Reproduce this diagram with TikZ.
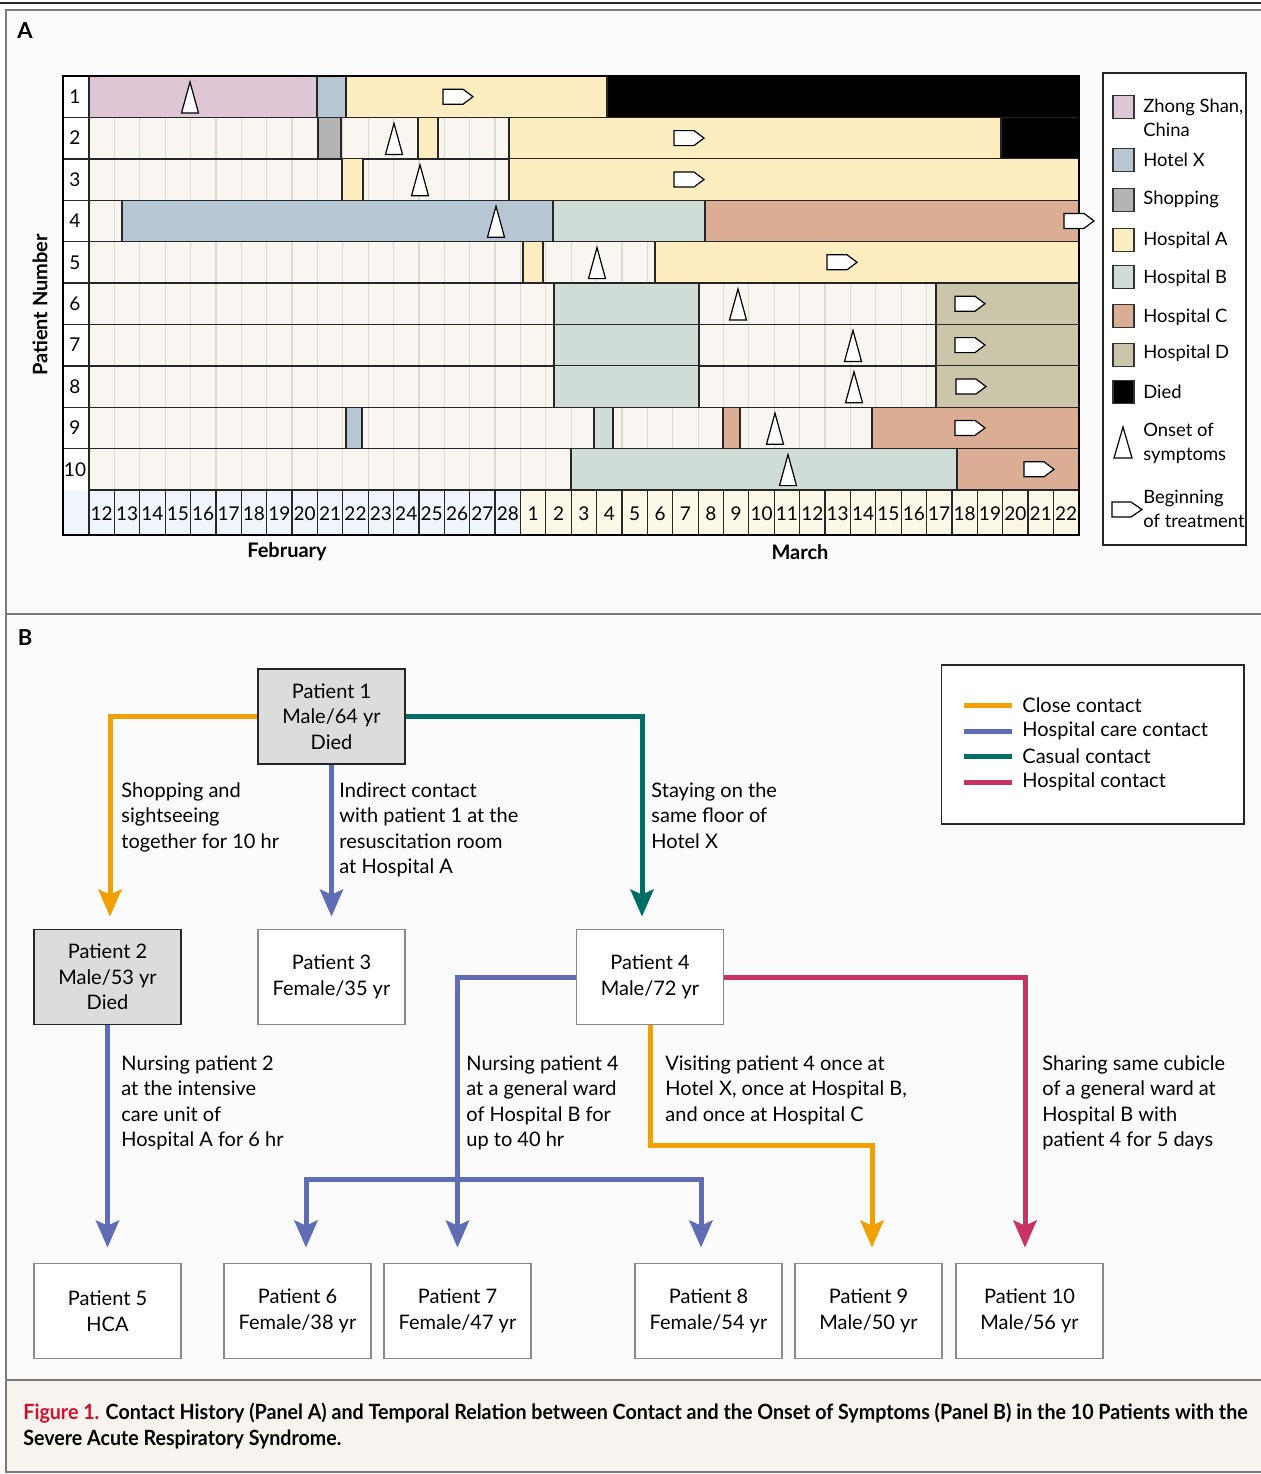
\documentclass[tikz,border=0pt]{standalone}
\usepackage{fontspec}
\setmainfont{Lato}
\usepackage{graphicx}
\usetikzlibrary{arrows.meta}
\definecolor{czs}{HTML}{DFC6D5}
\definecolor{chx}{HTML}{B6C6D3}
\definecolor{csh}{HTML}{B4B4B4}
\definecolor{cha}{HTML}{FEEDC0}
\definecolor{chb}{HTML}{CFDDD6}
\definecolor{chc}{HTML}{DCAD95}
\definecolor{chd}{HTML}{CBC5AA}
\definecolor{bgc}{HTML}{F9F6F1}
\definecolor{gridc}{HTML}{DDD9D1}
\definecolor{febc}{HTML}{EFF5FB}
\definecolor{marc}{HTML}{FBF8E7}
\definecolor{panelbg}{HTML}{FBFBFB}
\definecolor{capbg}{HTML}{F7F4EF}
\definecolor{corange}{HTML}{F0A000}
\definecolor{cblue}{HTML}{5F6EB4}
\definecolor{cteal}{HTML}{006E64}
\definecolor{cpink}{HTML}{C83264}
\definecolor{nodegray}{HTML}{DCDCDC}
\definecolor{boxgray}{HTML}{8A8A8A}
\definecolor{figred}{HTML}{D2102C}
\definecolor{framec}{HTML}{7A7A7A}
\newcommand\cbar[4]{\filldraw[fill=#4, draw=black!85, line width=0.6pt] (#1,{76+41.4*(#3-1)}) rectangle (#2,{76+41.4*#3});}
\newcommand\onset[2]{\filldraw[fill=white, draw=black, line width=0.6pt] (#1,{76+41.4*(#2-1)+6}) -- ({#1+8.5},{76+41.4*(#2-1)+37}) -- ({#1-8.5},{76+41.4*(#2-1)+37}) -- cycle;}
\newcommand\treat[2]{\filldraw[fill=white, draw=black, line width=0.6pt] (#1,{76+41.4*(#2-1)+13.2}) -- ({#1+20},{76+41.4*(#2-1)+13.2}) -- ({#1+30},{76+41.4*(#2-1)+20.7}) -- ({#1+20},{76+41.4*(#2-1)+28.2}) -- (#1,{76+41.4*(#2-1)+28.2}) -- cycle;}
\begin{document}
\begin{tikzpicture}[x=0.5pt,y=-0.5pt,
  pbox/.style={minimum width=73.5pt, minimum height=47.5pt, inner sep=0pt, align=center, font=\fontsize{10}{12.75}\selectfont, line width=0.9pt},
  deadbox/.style={pbox, draw=black!85, fill=nodegray},
  livebox/.style={pbox, draw=boxgray, fill=white},
  lbl/.style={anchor=north west, inner sep=0pt, align=left, font=\fontsize{10}{12.75}\selectfont},
  conn/.style={line width=2.5pt, -{Stealth[length=13.5pt,width=11.5pt,inset=2.5pt]}},
  closec/.style={conn, draw=corange},
  hcare/.style={conn, draw=cblue},
  casual/.style={conn, draw=cteal},
  hospc/.style={conn, draw=cpink},
  leg/.style={anchor=west, inner sep=0pt, font=\fontsize{9.2}{12}\selectfont},
  daynum/.style={inner sep=0pt, font=\fontsize{9.5}{11}\selectfont},
]
\useasboundingbox (0,0) rectangle (1261,1474);
\fill[white] (0,0) rectangle (1261,1474);
\fill[panelbg] (6,10) rectangle (1261,1380);
\fill[capbg] (6,1380) rectangle (1261,1472);
\draw[black!85, line width=1pt] (0,3) -- (1261,3);
\draw[framec, line width=1pt] (1265,10) -- (6,10) -- (6,1472) -- (1265,1472);
\draw[framec, line width=1pt] (6,614) -- (1265,614);
\draw[framec, line width=1pt] (6,1380) -- (1265,1380);

% ---------------- Panel A ----------------
\node[inner sep=0pt, font=\fontsize{11}{13}\selectfont\bfseries] (labA) at (25,31) {A};
\node[inner sep=0pt, rotate=90, font=\fontsize{10}{12}\selectfont\bfseries] (pnum) at (40,305) {Patient Number};
\node[inner sep=0pt, font=\fontsize{10}{12}\selectfont\bfseries] (feb) at (287,552) {February};
\node[inner sep=0pt, font=\fontsize{10}{12}\selectfont\bfseries] (mar) at (800,552) {March};

\foreach \r in {1,...,10} {
  \pgfmathsetmacro\yt{76+41.4*(\r-1)}
  \fill[bgc] (89,\yt) rectangle (1079,{\yt+41.4});
  \foreach \k in {1,...,38} \draw[gridc, line width=0.6pt] ({89+25.38*\k},\yt) -- ({89+25.38*\k},{\yt+41.4});
  \fill[white] (63,\yt) rectangle (89,{\yt+41.4});
  \node[daynum] (r\r) at (75,{\yt+20.7}) {\r};
}
\foreach \r in {1,...,9} \draw[black!85, line width=0.7pt] (63,{76+41.4*\r}) -- (1079,{76+41.4*\r});

% row 1
\cbar{89}{317}{1}{czs}
\cbar{317}{346}{1}{chx}
\cbar{346}{607}{1}{cha}
\cbar{607}{1079}{1}{black}
% row 2
\cbar{318}{341}{2}{csh}
\cbar{418}{438}{2}{cha}
\cbar{509}{1001}{2}{cha}
\cbar{1001}{1079}{2}{black}
% row 3
\cbar{342}{363}{3}{cha}
\cbar{509}{1079}{3}{cha}
% row 4
\cbar{122}{553}{4}{chx}
\cbar{553}{705}{4}{chb}
\cbar{705}{1079}{4}{chc}
% row 5
\cbar{523}{543}{5}{cha}
\cbar{655}{1079}{5}{cha}
% rows 6-8
\cbar{554}{699}{6}{chb}
\cbar{936}{1079}{6}{chd}
\cbar{554}{699}{7}{chb}
\cbar{936}{1079}{7}{chd}
\cbar{554}{699}{8}{chb}
\cbar{936}{1079}{8}{chd}
% row 9
\cbar{346}{362}{9}{chx}
\cbar{594}{613}{9}{chb}
\cbar{723}{740}{9}{chc}
\cbar{872}{1079}{9}{chc}
% row 10
\cbar{571}{957}{10}{chb}
\cbar{957}{1079}{10}{chc}

% date row
\fill[febc] (63,490) rectangle (89,535);
\foreach \k in {0,...,38} {
  \ifnum\k<17 \def\cc{febc}\else\def\cc{marc}\fi
  \pgfmathtruncatemacro\dn{\k<17 ? 12+\k : \k-16}
  \filldraw[fill=\cc, draw=black!85, line width=0.6pt] ({89+25.38*\k},490) rectangle ({89+25.38*(\k+1)},535);
  \node[daynum] (d\k) at ({89+25.38*\k+12.7},514) {\dn};
}
\draw[black!85, line width=0.8pt] (89,76) -- (89,535);
\draw[black, line width=1.3pt] (63,76) rectangle (1079,535);

% symbols
\onset{190}{1}  \treat{443}{1}
\onset{394}{2}  \treat{674}{2}
\onset{420}{3}  \treat{674}{3}
\onset{496}{4}  \treat{1064}{4}
\onset{597}{5}  \treat{827}{5}
\onset{738}{6}  \treat{955}{6}
\onset{853}{7}  \treat{955}{7}
\onset{854}{8}  \treat{956}{8}
\onset{775}{9}  \treat{955}{9}
\onset{788}{10} \treat{1024}{10}

% legend A
\filldraw[fill=white, draw=black!85, line width=0.8pt] (1103,73) rectangle (1246,545);
\foreach \yy/\cc in {107/czs,160/chx,200/csh,240/cha,277/chb,316/chc,355/chd,392/black}
  \filldraw[fill=\cc, draw=black!80, line width=0.6pt] (1113,{\yy-11.5}) rectangle (1134,{\yy+11.5});
\node[leg, anchor=north west, align=left] (lz) at (1143,99) {Zhong Shan,\\China};
\node[leg] (lhx) at (1143,160) {Hotel X};
\node[leg] (lsh) at (1143,199) {Shopping};
\node[leg] (lha) at (1143,240) {Hospital A};
\node[leg] (lhb) at (1143,278) {Hospital B};
\node[leg] (lhc) at (1143,317) {Hospital C};
\node[leg] (lhd) at (1143,353) {Hospital D};
\node[leg] (ldi) at (1143,392) {Died};
\filldraw[fill=white, draw=black, line width=0.6pt] (1123,427) -- (1132,458) -- (1114,458) -- cycle;
\node[leg, anchor=north west, align=left] (lon) at (1143,423) {Onset of\\symptoms};
\filldraw[fill=white, draw=black, line width=0.6pt] (1112,502) -- (1131,502) -- (1142,509.5) -- (1131,517) -- (1112,517) -- cycle;
\node[leg, anchor=north west, align=left] (lbt) at (1143,490) {Beginning\\of treatment};

% ---------------- Panel B ----------------
\node[inner sep=0pt, font=\fontsize{11}{13}\selectfont\bfseries] (labB) at (25,638) {B};

\node[deadbox] (p1) at (331.5,716.5) {Patient 1\\Male/64 yr\\Died};
\node[deadbox] (p2) at (107.5,977) {Patient 2\\Male/53 yr\\Died};
\node[livebox] (p3) at (331.5,977) {Patient 3\\Female/35 yr};
\node[livebox] (p4) at (650,977) {Patient 4\\Male/72 yr};
\node[livebox] (p5) at (107.5,1311) {Patient 5\\HCA};
\node[livebox] (p6) at (297.5,1311) {Patient 6\\Female/38 yr};
\node[livebox] (p7) at (457.5,1311) {Patient 7\\Female/47 yr};
\node[livebox] (p8) at (708.5,1311) {Patient 8\\Female/54 yr};
\node[livebox] (p9) at (868.5,1311) {Patient 9\\Male/50 yr};
\node[livebox] (p10) at (1029.5,1311) {Patient 10\\Male/56 yr};

\coordinate (br) at (457,1179);
\coordinate (ko) at (0,1145);

\draw[closec, shorten >=6pt] (p1.west) -| ([xshift=1.25pt]p2.north);
\draw[hcare, shorten >=6pt] (p1.south) -- (p3.north);
\draw[casual, shorten >=6pt] (p1.east) -| ([xshift=-4pt]p4.north);
\draw[hcare, shorten >=7.5pt] (p2.south) -- (p5.north);
\draw[hcare, shorten >=7.5pt] (p4.west) -| (p7.north);
\draw[hcare, shorten >=7.5pt] (br) -| ([xshift=4.25pt]p6.north);
\draw[hcare, shorten >=7.5pt] (br) -| ([xshift=-3.75pt]p8.north);
\draw[closec, shorten >=7.5pt] (p4.south) -- (p4.south |- ko) -| ([xshift=1.75pt]p9.north);
\draw[hospc, shorten >=7.5pt] (p4.east) -| ([xshift=-2.25pt]p10.north);

\node[lbl] (t12) at (121,782) {Shopping and\\sightseeing\\together for 10 hr};
\node[lbl] (t13) at (339,782) {Indirect contact\\with patient 1 at the\\resuscitation room\\at Hospital A};
\node[lbl] (t14) at (651,782) {Staying on the\\same floor of\\Hotel X};
\node[lbl] (t25) at (121,1055) {Nursing patient 2\\at the intensive\\care unit of\\Hospital A for 6 hr};
\node[lbl] (t4h) at (466,1055) {Nursing patient 4\\at a general ward\\of Hospital B for\\up to 40 hr};
\node[lbl] (t49) at (665,1055) {Visiting patient 4 once at\\Hotel X, once at Hospital B,\\and once at Hospital C};
\node[lbl] (t410) at (1042,1055) {Sharing same cubicle\\of a general ward at\\Hospital B with\\patient 4 for 5 days};

% legend B
\filldraw[fill=white, draw=black!85, line width=0.9pt] (941.5,665) rectangle (1244,824);
\foreach \yy/\cc in {705/corange,731/cblue,756/cteal,782/cpink}
  \draw[\cc, line width=2.5pt] (964,\yy) -- (1012,\yy);
\node[anchor=west, inner sep=0pt, font=\fontsize{10}{12}\selectfont] (lc1) at (1022,705) {Close contact};
\node[anchor=west, inner sep=0pt, font=\fontsize{10}{12}\selectfont] (lc2) at (1022,731) {Hospital care contact};
\node[anchor=west, inner sep=0pt, font=\fontsize{10}{12}\selectfont] (lc3) at (1022,756) {Casual contact};
\node[anchor=west, inner sep=0pt, font=\fontsize{10}{12}\selectfont] (lc4) at (1022,782) {Hospital contact};

% caption
\node[anchor=west, inner sep=0pt, font=\fontsize{10.5}{12}\selectfont\bfseries] (cap1) at (23,1413) {\resizebox{612pt}{\height}{\textcolor{figred}{Figure 1.} Contact History (Panel A) and Temporal Relation between Contact and the Onset of Symptoms (Panel B) in the 10 Patients with the}};
\node[anchor=west, inner sep=0pt, font=\fontsize{10.5}{12}\selectfont\bfseries] (cap2) at (23,1439) {\resizebox{159pt}{\height}{Severe Acute Respiratory Syndrome.}};
\end{tikzpicture}
\end{document}
